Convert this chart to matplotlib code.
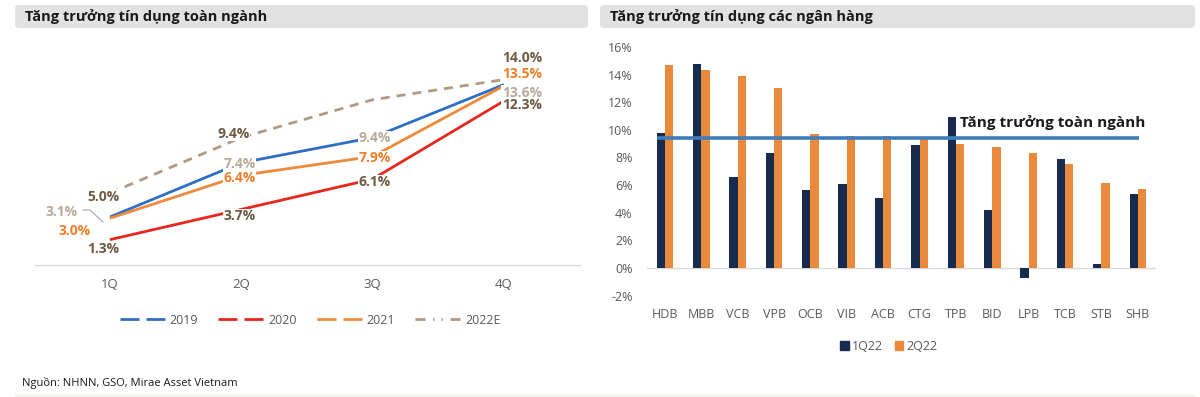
import matplotlib
matplotlib.use("Agg")
import matplotlib.pyplot as plt
from matplotlib.patches import FancyBboxPatch, Rectangle, Patch
from matplotlib.lines import Line2D
from matplotlib.transforms import IdentityTransform
import numpy as np

plt.rcParams['font.family'] = ['Open Sans', 'DejaVu Sans']
plt.rcParams['lines.scale_dashes'] = False

# ---------------- data ----------------
quarters = ['1Q', '2Q', '3Q', '4Q']
g2019 = [3.1, 7.4, 9.4, 13.6]
g2020 = [1.3, 3.7, 6.1, 12.3]
g2021 = [3.0, 6.4, 7.9, 13.5]
g2022e = [5.0, 9.4, 12.4, 14.0]
lab2022e = ['5.0%', '9.4%', None, '14.0%']
series_names = ['2019', '2020', '2021', '2022E']

banks = ['HDB', 'MBB', 'VCB', 'VPB', 'OCB', 'VIB', 'ACB', 'CTG', 'TPB', 'BID',
         'LPB', 'TCB', 'STB', 'SHB']
q1_22 = [9.75, 14.75, 6.6, 8.3, 5.63, 6.1, 5.05, 8.88, 10.9, 4.2, -0.72, 7.9, 0.29, 5.34]
q2_22 = [14.68, 14.3, 13.9, 13.0, 9.7, 9.55, 9.55, 9.35, 8.97, 8.73, 8.33, 7.53, 6.14, 5.75]
industry = 9.4
bar_names = ['1Q22', '2Q22']

# ---------------- style ----------------
W, H = 1200, 397
c_blue = '#2e6fc4'
c_red = '#e8261e'
c_orange = '#ee8a3a'
c_tan = '#b09b82'
c_lab_dark = '#6e5a42'
c_lab_light = '#b8ab9b'
c_lab_orange = '#ee7f2d'
c_grey_txt = '#595959'
bold_fam = ['Open Sans', 'DejaVu Sans']

fig = plt.figure(figsize=(W / 100, H / 100), dpi=100)

# title bars
for x0, x1, title in [(15, 588, 'Tăng trưởng tín dụng toàn ngành'),
                      (600, 1195, 'Tăng trưởng tín dụng các ngân hàng')]:
    fig.add_artist(FancyBboxPatch((x0, H - 28), x1 - x0, 23,
                                  boxstyle='round,pad=0,rounding_size=4',
                                  transform=IdentityTransform(),
                                  fc='#e2e2e2', ec='none'))
    fig.text((x0 + 10) / W, (H - 16.5) / H, title, fontsize=10.5, fontweight='bold',
             family=bold_fam, color='#1a1a1a', va='center', ha='left')

# ---------------- left chart ----------------
ax1 = fig.add_axes([35 / W, (H - 265) / H, 545 / W, 225 / H])
x = np.arange(len(quarters))
ax1.set_xlim(-0.571, 3.58)
ax1.set_ylim(-0.71, 17.14)
for s in ['top', 'left', 'right']:
    ax1.spines[s].set_visible(False)
ax1.spines['bottom'].set_color('#d9d9d9')
ax1.spines['bottom'].set_linewidth(1)
ax1.set_yticks([])
ax1.set_xticks(x)
ax1.set_xticklabels(quarters, fontsize=9.5, color=c_grey_txt)
ax1.tick_params(axis='x', length=0, pad=9)

ax1.plot(x, g2019, color=c_blue, lw=2, solid_capstyle='butt', zorder=2)
ax1.plot(x, g2020, color=c_red, lw=2, solid_capstyle='butt', zorder=2)
ax1.plot(x, g2021, color=c_orange, lw=2, solid_capstyle='butt', zorder=2)
ax1.plot(x, g2022e, color=c_tan, lw=2, dashes=(6.5, 5), zorder=2)

def lab(i, v, text, dx, dy, color):
    ax1.annotate(text, (i, v), xytext=(dx * 0.72, -dy * 0.72), textcoords='offset points',
                 ha='center', va='center', fontsize=10, fontweight='bold', color=color,
                 bbox=dict(fc='white', ec='none', pad=0.3), zorder=5)

off2019 = [(-48, -5), (-2, 1.5), (2, 0.7), (18, 8)]
off2020 = [(-7, 9), (-2, 7), (2, 3), (18, 4)]
off2021 = [(-35, 13), (-2, 3), (2, 2), (18, -12)]
off2022 = [(-7, 3.7), (-8, -3.6), None, (18, -22)]
for i in range(4):
    lab(i, g2019[i], f'{g2019[i]:.1f}%', *off2019[i], c_lab_light)
    lab(i, g2020[i], f'{g2020[i]:.1f}%', *off2020[i], c_lab_dark)
    lab(i, g2021[i], f'{g2021[i]:.1f}%', *off2021[i], c_lab_orange)
    if lab2022e[i]:
        lab(i, g2022e[i], lab2022e[i], *off2022[i], c_lab_dark)

# leader line for first 2019 label
px, py = ax1.transData.transform((0, g2019[0]))
lx = [px - 27, px - 20, px - 7]
ly = [py + 7, py + 7, py - 5]
fig.add_artist(Line2D(lx, ly, transform=IdentityTransform(), color='#a6a6a6', lw=0.8))

h_leg = [Line2D([], [], color=c_blue, lw=2, dashes=(13.7, 5)),
         Line2D([], [], color=c_red, lw=2, dashes=(13.7, 5)),
         Line2D([], [], color=c_orange, lw=2, dashes=(13.7, 5)),
         Line2D([], [], color=c_tan, lw=2, dashes=(7.2, 5.5, 1, 5, 1, 5.5))]
ax1.legend(h_leg, series_names, loc='center', bbox_to_anchor=(310 / W, (H - 320) / H),
           bbox_transform=fig.transFigure, ncol=4, frameon=False, fontsize=9,
           handlelength=3.6, handletextpad=0.4, columnspacing=1.6, labelcolor=c_grey_txt)

# ---------------- right chart ----------------
ax2 = fig.add_axes([646.7 / W, (H - 295.6) / H, 509.3 / W, 248.6 / H])
xb = np.arange(len(banks))
w = 0.228
ax2.bar(xb - w / 2, q1_22, w, color='#172b4f', zorder=2, label=bar_names[0])
ax2.bar(xb + w / 2, q2_22, w, color='#e8893b', zorder=2, label=bar_names[1])
ax2.axhline(0, color='#d9d9d9', lw=1, zorder=1)
ax2.plot([xb[0] - 0.22, xb[-1] + 0.03], [industry, industry], color='#3d7ebb', lw=2.6,
         solid_capstyle='butt', zorder=3)
ax2.text(8.1, industry + 1.15, 'Tăng trưởng toàn ngành', fontsize=11, fontweight='bold',
         family=bold_fam, color='#1a1a1a', va='center', ha='left', zorder=4)
ax2.set_xlim(-0.5, 13.5)
ax2.set_ylim(-2, 16)
yt = np.arange(-2, 17, 2)
ax2.set_yticks(yt)
ax2.set_yticklabels([f'{v}%' for v in yt], fontsize=9, color=c_grey_txt)
ax2.set_xticks(xb)
ax2.set_xticklabels(banks, fontsize=9, color=c_grey_txt)
ax2.tick_params(axis='both', length=0)
ax2.tick_params(axis='y', pad=10)
ax2.tick_params(axis='x', pad=9)
for s in ax2.spines.values():
    s.set_visible(False)
ax2.legend(handles=[Patch(color='#172b4f'), Patch(color='#e8893b')], labels=bar_names,
           loc='center', bbox_to_anchor=(889 / W, (H - 346) / H), bbox_transform=fig.transFigure,
           ncol=2, frameon=False, fontsize=9, handlelength=0.7, handleheight=0.7,
           handletextpad=0.25, columnspacing=0.9, labelcolor=c_grey_txt)

# source + bottom band
fig.text(22 / W, (H - 383) / H, 'Nguồn: NHNN, GSO, Mirae Asset Vietnam', fontsize=8,
         color='#1a1a1a', va='center', ha='left')
fig.add_artist(Rectangle((15, 0), 1180, 3, transform=IdentityTransform(), fc='#f6f4f0', ec='none'))

fig.savefig('out.png', dpi=100)
